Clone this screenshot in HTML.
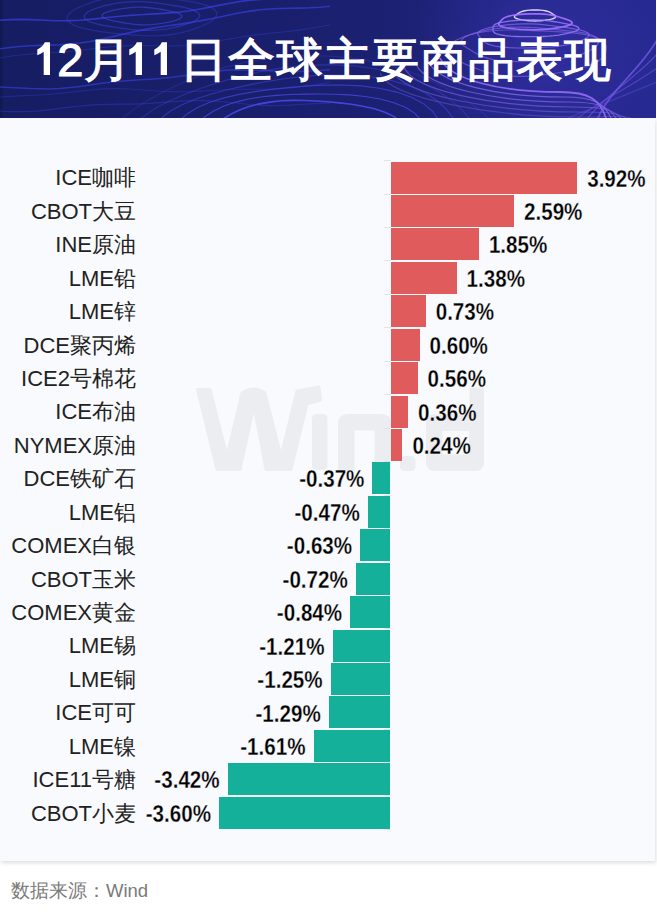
<!DOCTYPE html>
<html><head><meta charset="utf-8"><style>
html,body{margin:0;padding:0;width:657px;height:912px;overflow:hidden;background:#fff;font-family:"Liberation Sans",sans-serif;}
#hdr{position:absolute;left:0;top:0;width:656px;height:118px;overflow:hidden}
#hdr svg{position:absolute;left:0;top:0}
.one{position:relative;color:transparent;-webkit-text-stroke:0 transparent;margin-right:-2.5px}
#hdr .one svg{position:absolute;top:9px}
.cj{letter-spacing:1.1px}
#title{position:absolute;left:33px;top:29px;color:#fff;font-size:47px;font-weight:normal;-webkit-text-stroke:1.1px #fff;white-space:nowrap;letter-spacing:0.5px}
#panel{position:absolute;left:0;top:118px;width:654.5px;height:742.5px;background:#f9fafd;box-shadow:0.5px 2px 4px rgba(0,0,0,0.13)}
#wm{position:absolute;left:0;top:0}
.bar{position:absolute}
.val{position:absolute;font-size:20.6px;font-weight:bold;color:#000;line-height:33px;white-space:nowrap;transform:scaleY(1.18);transform-origin:50% 50%;-webkit-text-stroke:0.25px #f9fafd}
.cat{position:absolute;right:521px;font-size:21.5px;color:#222;line-height:33px;white-space:nowrap}
.lat{font-size:22px}
.tick{position:absolute;left:384px;width:7px;height:1px;background:#e4e4e8}
#foot{position:absolute;left:11px;top:878px;font-size:19px;color:#7a7a7a;white-space:nowrap}
#foot span{font-size:18.5px}
</style></head><body>
<div id="panel"></div>
<div id="hdr"><svg width="656" height="118" viewBox="0 0 656 118">
<defs>
<linearGradient id="bg" x1="0" y1="0" x2="1" y2="0">
<stop offset="0" stop-color="#161d62"/><stop offset="0.55" stop-color="#1b2070"/><stop offset="1" stop-color="#262990"/></linearGradient>
<radialGradient id="glow" cx="540" cy="50" r="130" gradientUnits="userSpaceOnUse">
<stop offset="0" stop-color="#4a3cd0" stop-opacity="0.35"/><stop offset="1" stop-color="#4a3cd0" stop-opacity="0"/></radialGradient>
</defs>
<rect width="656" height="118" fill="url(#bg)"/>
<rect width="656" height="118" fill="url(#glow)"/>
<rect width="2.5" height="118" fill="#101a50"/>
<path d="M555.0,15.6 L555.5,16.3 L555.5,17.1 L554.8,17.9 L553.4,18.5 L551.5,19.1 L549.4,19.6 L547.1,19.9 L544.8,20.3 L542.4,20.5 L540.0,20.8 L537.5,20.9 L535.0,21.0 L532.5,20.9 L530.0,20.8 L527.6,20.5 L525.2,20.3 L522.9,19.9 L520.6,19.6 L518.5,19.1 L516.6,18.5 L515.2,17.9 L514.5,17.1 L514.5,16.3 L515.0,15.6 L515.9,14.9 L516.8,14.3 L517.8,13.6 L518.8,13.0 L519.8,12.4 L521.1,11.8 L522.8,11.2 L524.8,10.7 L527.1,10.4 L529.7,10.1 L532.3,10.0 L535.0,10.0 L537.7,10.0 L540.3,10.1 L542.9,10.4 L545.2,10.7 L547.2,11.2 L548.9,11.8 L550.2,12.4 L551.2,13.0 L552.2,13.6 L553.2,14.3 L554.1,14.9Z" fill="none" stroke="#e6dcff" stroke-opacity="0.95" stroke-width="1.4"/>
<path d="M571.8,22.0 L572.1,23.1 L571.1,24.2 L569.0,25.2 L566.1,26.1 L562.7,26.9 L559.1,27.6 L555.3,28.2 L551.5,28.7 L547.4,29.2 L543.1,29.5 L538.6,29.7 L534.0,29.8 L529.4,29.7 L524.9,29.5 L520.4,29.3 L515.9,29.0 L511.4,28.5 L507.1,28.0 L503.5,27.2 L500.8,26.3 L499.2,25.2 L498.7,24.1 L499.0,23.0 L499.8,22.0 L500.7,21.0 L501.6,20.1 L502.5,19.1 L503.7,18.1 L505.6,17.2 L508.2,16.3 L511.5,15.5 L515.5,14.9 L519.8,14.4 L524.4,14.1 L529.2,13.9 L534.0,13.8 L538.8,13.8 L543.6,14.1 L548.0,14.5 L551.9,15.1 L555.2,15.9 L558.1,16.7 L560.6,17.5 L563.1,18.3 L565.7,19.1 L568.2,20.0 L570.4,20.9Z" fill="none" stroke="#a070ff" stroke-opacity="0.95" stroke-width="1.7"/>
<path d="M579.0,28.5 L578.2,29.7 L576.2,30.8 L573.3,31.8 L570.0,32.7 L566.4,33.6 L562.6,34.3 L558.4,35.1 L553.9,35.7 L549.0,36.2 L543.8,36.5 L538.4,36.7 L533.0,36.7 L527.5,36.7 L521.9,36.7 L516.2,36.5 L510.5,36.2 L505.1,35.7 L500.5,34.9 L496.9,34.0 L494.6,32.9 L493.4,31.7 L493.0,30.6 L493.0,29.5 L493.0,28.5 L493.0,27.5 L493.2,26.4 L493.9,25.3 L495.5,24.2 L498.1,23.2 L501.7,22.3 L506.1,21.6 L510.9,20.9 L516.1,20.5 L521.6,20.1 L527.2,19.8 L533.0,19.7 L538.7,19.9 L544.2,20.3 L549.1,20.8 L553.5,21.5 L557.5,22.2 L561.3,22.9 L565.1,23.6 L569.1,24.4 L572.8,25.2 L576.1,26.2 L578.2,27.3Z" fill="none" stroke="#9a78ff" stroke-opacity="0.85" stroke-width="1.3"/>
<path d="M588.8,36.0 L587.0,37.6 L584.3,39.1 L581.0,40.5 L577.4,41.8 L573.4,43.1 L568.9,44.3 L563.6,45.3 L557.8,46.1 L551.4,46.8 L544.8,47.2 L538.0,47.6 L531.0,47.8 L523.8,48.0 L516.3,48.0 L508.8,47.7 L501.6,47.1 L495.3,46.1 L490.3,44.9 L486.8,43.4 L484.4,41.9 L482.8,40.4 L481.4,38.9 L480.1,37.5 L478.8,36.0 L477.9,34.5 L478.0,32.9 L479.4,31.3 L482.2,29.8 L486.1,28.5 L491.1,27.3 L496.7,26.2 L502.8,25.3 L509.3,24.6 L516.3,24.1 L523.6,23.8 L531.0,23.8 L538.1,24.2 L544.8,24.8 L550.8,25.5 L556.6,26.3 L562.3,27.1 L568.1,27.9 L574.0,28.8 L579.7,29.9 L584.4,31.2 L587.7,32.7 L589.1,34.3Z" fill="none" stroke="#8a6cf0" stroke-opacity="0.70" stroke-width="1.2"/>
<path d="M597.9,44.0 L595.9,46.2 L593.3,48.3 L590.1,50.3 L586.3,52.3 L581.6,54.1 L575.9,55.7 L569.2,57.1 L561.9,58.3 L554.2,59.2 L546.2,60.1 L537.9,60.8 L529.0,61.4 L519.7,61.7 L510.2,61.5 L501.2,60.8 L493.1,59.6 L486.4,57.9 L481.2,55.9 L477.2,53.9 L473.7,52.0 L470.5,50.1 L467.2,48.1 L464.2,46.1 L461.9,44.0 L461.0,41.8 L461.9,39.5 L464.5,37.3 L468.5,35.3 L473.7,33.4 L479.7,31.7 L486.4,30.1 L493.9,28.8 L502.2,27.8 L511.0,27.2 L520.1,27.1 L529.0,27.4 L537.5,27.9 L545.4,28.7 L553.2,29.4 L561.1,30.1 L569.2,30.9 L577.4,31.9 L585.1,33.2 L591.5,35.0 L596.1,37.0 L598.6,39.3 L599.0,41.7Z" fill="none" stroke="#8a6cf0" stroke-opacity="0.60" stroke-width="1.2"/>
<path d="M605.7,52.0 L604.3,54.9 L602.2,57.8 L599.0,60.6 L594.6,63.2 L588.8,65.6 L581.9,67.8 L574.2,69.7 L565.9,71.4 L557.2,73.0 L547.9,74.4 L537.8,75.6 L527.0,76.4 L515.8,76.4 L505.0,75.7 L495.1,74.2 L486.6,72.1 L479.5,69.8 L473.4,67.4 L467.8,65.1 L462.2,62.8 L456.7,60.4 L451.6,57.8 L447.8,55.0 L445.7,52.0 L445.7,48.9 L447.6,45.9 L451.2,43.0 L456.0,40.2 L461.8,37.6 L468.7,35.2 L476.7,33.2 L485.9,31.5 L496.0,30.5 L506.5,30.0 L516.9,30.0 L527.0,30.4 L536.7,30.8 L546.4,31.2 L556.3,31.7 L566.6,32.3 L576.9,33.3 L586.6,34.9 L594.7,37.1 L600.8,39.8 L604.5,42.8 L606.2,45.9 L606.4,49.0Z" fill="none" stroke="#8a6cf0" stroke-opacity="0.55" stroke-width="1.2"/>
<path d="M440,58 C450,80 500,92 560,92 C590,92 600,100 606,118" fill="none" stroke="#9a70ff" stroke-opacity="0.85" stroke-width="1.8"/>
<path d="M428,61 C438,84 500,97 564,97 C594,97 604,103 611,118" fill="none" stroke="#8a6cf0" stroke-opacity="0.75" stroke-width="1.2"/>
<path d="M416,64 C426,88 500,102 568,102 C598,102 608,106 616,118" fill="none" stroke="#8a6cf0" stroke-opacity="0.65" stroke-width="1.2"/>
<path d="M404,67 C414,92 500,107 572,107 C602,107 612,109 621,118" fill="none" stroke="#8a6cf0" stroke-opacity="0.55" stroke-width="1.2"/>
<path d="M392,70 C402,96 500,112 576,112 C606,112 616,112 626,118" fill="none" stroke="#8a6cf0" stroke-opacity="0.45" stroke-width="1.2"/>
<path d="M380,73 C390,100 500,117 580,117 C610,117 620,115 631,118" fill="none" stroke="#8a6cf0" stroke-opacity="0.35" stroke-width="1.2"/>
<path d="M404.5,138.0 L401.6,143.4 L397.3,148.4 L392.1,153.2 L386.0,157.7 L379.0,161.9 L371.0,165.8 L361.8,169.2 L351.6,171.9 L340.4,173.9 L328.6,175.2 L316.8,175.6 L305.0,175.5 L293.4,175.0 L282.0,174.2 L270.5,173.1 L258.8,171.7 L247.0,169.8 L235.6,167.2 L225.2,163.8 L216.3,159.6 L209.8,154.6 L205.8,149.2 L204.5,143.6 L205.5,138.0 L208.4,132.6 L212.7,127.6 L217.9,122.8 L224.0,118.3 L231.0,114.1 L239.0,110.2 L248.2,106.8 L258.4,104.1 L269.6,102.1 L281.4,100.8 L293.2,100.4 L305.0,100.5 L316.6,101.0 L328.0,101.8 L339.5,102.9 L351.2,104.3 L363.0,106.2 L374.4,108.8 L384.8,112.2 L393.7,116.4 L400.2,121.4 L404.2,126.8 L405.5,132.4Z" fill="none" stroke="#4d4af0" stroke-opacity="0.85" stroke-width="1.6"/>
<path d="M423.1,140.0 L420.1,146.3 L416.0,152.5 L410.7,158.3 L404.1,164.0 L395.9,169.2 L386.0,173.9 L374.4,177.9 L361.5,181.0 L347.7,183.2 L333.6,184.6 L319.3,185.5 L305.0,185.9 L290.5,186.0 L275.7,185.8 L260.4,185.1 L245.0,183.5 L230.0,181.0 L216.1,177.2 L204.2,172.4 L195.1,166.6 L189.0,160.1 L186.0,153.4 L185.5,146.6 L186.9,140.0 L189.9,133.7 L194.0,127.5 L199.3,121.7 L205.9,116.0 L214.1,110.8 L224.0,106.1 L235.6,102.1 L248.5,99.0 L262.3,96.8 L276.4,95.4 L290.7,94.5 L305.0,94.1 L319.5,94.0 L334.3,94.2 L349.6,94.9 L365.0,96.5 L380.0,99.0 L393.9,102.8 L405.8,107.6 L414.9,113.4 L421.0,119.9 L424.0,126.6 L424.5,133.4Z" fill="none" stroke="#4d4af0" stroke-opacity="0.73" stroke-width="1.1"/>
<path d="M441.3,142.0 L439.3,149.4 L435.7,156.6 L430.3,163.6 L422.5,170.3 L412.5,176.4 L400.2,181.7 L386.1,186.1 L370.9,189.6 L355.0,192.4 L338.8,194.6 L322.2,196.4 L305.0,197.9 L287.1,198.9 L268.4,199.0 L249.3,198.1 L230.6,195.8 L213.2,191.9 L198.1,186.6 L186.1,180.1 L177.4,172.7 L171.9,165.0 L168.9,157.2 L168.0,149.5 L168.7,142.0 L170.7,134.6 L174.3,127.4 L179.7,120.4 L187.5,113.7 L197.5,107.6 L209.8,102.3 L223.9,97.9 L239.1,94.4 L255.0,91.6 L271.2,89.4 L287.8,87.6 L305.0,86.1 L322.9,85.1 L341.6,85.0 L360.7,85.9 L379.4,88.2 L396.8,92.1 L411.9,97.4 L423.9,103.9 L432.6,111.3 L438.1,119.0 L441.1,126.8 L442.0,134.5Z" fill="none" stroke="#4d4af0" stroke-opacity="0.61" stroke-width="1.1"/>
<path d="M461.0,144.0 L460.0,152.5 L456.4,160.9 L449.8,169.0 L440.3,176.5 L428.0,183.3 L413.6,189.2 L397.7,194.3 L380.8,198.7 L363.3,202.6 L345.0,206.2 L325.7,209.3 L305.0,211.8 L283.1,213.1 L260.6,213.0 L238.3,211.0 L217.4,207.2 L198.9,201.5 L183.6,194.5 L171.8,186.5 L163.0,178.1 L156.8,169.5 L152.5,161.0 L149.9,152.5 L149.0,144.0 L150.0,135.5 L153.6,127.1 L160.2,119.0 L169.7,111.5 L182.0,104.7 L196.4,98.8 L212.3,93.7 L229.2,89.3 L246.7,85.4 L265.0,81.8 L284.3,78.7 L305.0,76.2 L326.9,74.9 L349.4,75.0 L371.7,77.0 L392.6,80.8 L411.1,86.5 L426.4,93.5 L438.2,101.5 L447.0,109.9 L453.2,118.5 L457.5,127.0 L460.1,135.5Z" fill="none" stroke="#4d4af0" stroke-opacity="0.49" stroke-width="1.1"/>
<path d="M482.4,146.0 L481.3,155.6 L476.6,165.1 L468.4,174.1 L456.9,182.4 L443.0,190.0 L427.4,196.8 L410.6,203.2 L392.7,209.1 L373.5,214.7 L352.6,219.7 L329.7,223.9 L305.0,226.6 L279.2,227.4 L253.4,225.9 L229.0,222.2 L206.9,216.5 L188.0,209.3 L172.4,201.1 L159.8,192.3 L149.5,183.3 L141.1,174.2 L134.4,165.0 L129.7,155.6 L127.6,146.0 L128.7,136.4 L133.4,126.9 L141.6,117.9 L153.1,109.6 L167.0,102.0 L182.6,95.2 L199.4,88.8 L217.3,82.9 L236.5,77.3 L257.4,72.3 L280.3,68.1 L305.0,65.4 L330.8,64.6 L356.6,66.1 L381.0,69.8 L403.1,75.5 L422.0,82.7 L437.6,90.9 L450.2,99.7 L460.5,108.7 L468.9,117.8 L475.6,127.0 L480.3,136.4Z" fill="none" stroke="#4d4af0" stroke-opacity="0.37" stroke-width="1.1"/>
<path d="M504.0,148.0 L501.9,158.7 L495.7,169.2 L486.0,179.1 L473.7,188.4 L459.5,197.2 L443.9,205.6 L426.6,213.7 L407.3,221.5 L385.5,228.6 L360.9,234.5 L333.8,238.7 L305.0,240.5 L275.9,239.7 L247.9,236.4 L222.1,231.0 L199.3,223.9 L179.6,215.8 L162.5,207.1 L147.5,198.1 L134.3,188.9 L122.9,179.3 L113.9,169.2 L108.0,158.8 L106.0,148.0 L108.1,137.3 L114.3,126.8 L124.0,116.9 L136.3,107.6 L150.5,98.8 L166.1,90.4 L183.4,82.3 L202.7,74.5 L224.5,67.4 L249.1,61.5 L276.2,57.3 L305.0,55.5 L334.1,56.3 L362.1,59.6 L387.9,65.0 L410.7,72.1 L430.4,80.2 L447.5,88.9 L462.5,97.9 L475.7,107.1 L487.1,116.7 L496.1,126.8 L502.0,137.2Z" fill="none" stroke="#4d4af0" stroke-opacity="0.25" stroke-width="1.1"/>
<path d="M181.9,16.0 L181.5,17.3 L180.1,18.6 L177.7,19.7 L174.6,20.7 L171.2,21.6 L167.5,22.4 L163.8,23.1 L159.8,23.7 L155.6,24.2 L151.2,24.6 L146.6,24.8 L142.0,24.8 L137.5,24.5 L133.3,24.1 L129.4,23.6 L125.7,23.1 L122.2,22.5 L118.7,21.8 L115.0,21.2 L111.4,20.4 L108.0,19.5 L105.1,18.5 L103.1,17.3 L102.1,16.0 L102.5,14.7 L103.9,13.4 L106.3,12.3 L109.4,11.3 L112.8,10.4 L116.5,9.6 L120.2,8.9 L124.2,8.3 L128.4,7.8 L132.8,7.4 L137.4,7.2 L142.0,7.2 L146.5,7.5 L150.7,7.9 L154.6,8.4 L158.3,8.9 L161.8,9.5 L165.3,10.2 L169.0,10.8 L172.6,11.6 L176.0,12.5 L178.9,13.5 L180.9,14.7Z" fill="none" stroke="#3a46e0" stroke-opacity="0.60" stroke-width="1.3"/>
<path d="M199.7,16.0 L198.5,18.1 L195.9,20.2 L192.2,22.0 L188.0,23.7 L183.3,25.1 L178.4,26.5 L173.2,27.7 L167.6,28.8 L161.6,29.6 L155.2,30.2 L148.6,30.4 L142.0,30.3 L135.6,29.9 L129.6,29.3 L124.0,28.6 L118.4,27.8 L112.9,26.9 L107.2,26.0 L101.4,25.0 L95.9,23.7 L90.9,22.1 L87.1,20.2 L84.8,18.2 L84.3,16.0 L85.5,13.9 L88.1,11.8 L91.8,10.0 L96.0,8.3 L100.7,6.9 L105.6,5.5 L110.8,4.3 L116.4,3.2 L122.4,2.4 L128.8,1.8 L135.4,1.6 L142.0,1.7 L148.4,2.1 L154.4,2.7 L160.0,3.4 L165.6,4.2 L171.1,5.1 L176.8,6.0 L182.6,7.0 L188.1,8.3 L193.1,9.9 L196.9,11.8 L199.2,13.8Z" fill="none" stroke="#3a46e0" stroke-opacity="0.48" stroke-width="1.3"/>
<path d="M216.6,16.0 L214.3,18.9 L210.6,21.7 L206.0,24.2 L200.8,26.5 L195.2,28.6 L189.2,30.6 L182.6,32.3 L175.4,33.8 L167.5,35.0 L159.1,35.7 L150.5,35.9 L142.0,35.7 L133.8,35.1 L126.0,34.4 L118.4,33.6 L110.6,32.8 L102.7,31.8 L94.6,30.6 L86.6,29.1 L79.3,27.2 L73.2,24.8 L69.1,22.0 L67.1,19.0 L67.4,16.0 L69.7,13.1 L73.4,10.3 L78.0,7.8 L83.2,5.5 L88.8,3.4 L94.8,1.4 L101.4,-0.3 L108.6,-1.8 L116.5,-3.0 L124.9,-3.7 L133.5,-3.9 L142.0,-3.7 L150.2,-3.1 L158.0,-2.4 L165.6,-1.6 L173.4,-0.8 L181.3,0.2 L189.4,1.4 L197.4,2.9 L204.7,4.8 L210.8,7.2 L214.9,10.0 L216.9,13.0Z" fill="none" stroke="#3a46e0" stroke-opacity="0.36" stroke-width="1.3"/>
<polyline points="0,20.2 10,19.6 20,19.4 30,19.6 40,20.0 50,20.5 60,20.7 70,20.6 80,20.2 90,19.4 100,18.4 110,17.3 120,16.3 130,15.4 140,14.7 150,14.1 160,13.6 170,12.9 180,12.0 190,10.7 200,9.0 210,7.1 220,5.1 230,3.2 240,1.5 250,0.2 260,-0.6 270,-1.1 280,-1.2 290,-1.3 300,-1.5 310,-1.8 320,-2.4 330,-3.1" fill="none" stroke="#3b45ee" stroke-opacity="0.65" stroke-width="1.6" stroke-linejoin="round"/>
<polyline points="0,48.7 10,47.5 20,46.5 30,45.8 40,45.4 50,45.1 60,44.7 70,44.0 80,43.0 90,41.5 100,39.5 110,37.3 120,34.9 130,32.6 140,30.4 150,28.6 160,27.0 170,25.5 180,24.1 190,22.6 200,20.9 210,19.0 220,17.0 230,14.8 240,12.8 250,11.1 260,9.8 270,9.0 280,8.5 290,8.3 300,8.1 310,7.8 320,7.2 330,6.2" fill="none" stroke="#3b45ee" stroke-opacity="0.6" stroke-width="1.6" stroke-linejoin="round"/>
<polyline points="0,58.0 10,56.3 20,55.0 30,54.1 40,53.4 50,52.8 60,52.1 70,51.3 80,50.2 90,49.1 100,47.9 110,46.8 120,46.1 130,45.6 140,45.5 150,45.6 160,45.8 170,45.9 180,45.6 190,45.0 200,43.9 210,42.4 220,40.7 230,38.9 240,37.2 250,35.6 260,34.4 270,33.3 280,32.3 290,31.2 300,29.9 310,28.4 320,26.7 330,24.8" fill="none" stroke="#3b45ee" stroke-opacity="0.3" stroke-width="1.1" stroke-linejoin="round"/>
<polyline points="0,87.0 10,87.4 20,87.9 30,88.5 40,88.8 50,88.9 60,88.4 70,87.6 80,86.4 90,85.0 100,83.6 110,82.3 120,81.3 130,80.5 140,79.8 150,79.2 160,78.5 170,77.5 180,76.3 190,74.9 200,73.4 210,72.0 220,70.8 230,70.1 240,69.8 250,69.9 260,70.3 270,70.8 280,71.3 290,71.6 300,71.5 310,71.1 320,70.5 330,69.8" fill="none" stroke="#3b45ee" stroke-opacity="0.55" stroke-width="1.5" stroke-linejoin="round"/>
<polyline points="0,97.0 10,96.4 20,95.9 30,95.5 40,95.0 50,94.3 60,93.4 70,92.3 80,91.1 90,90.0 100,89.1 110,88.6 120,88.6 130,89.0 140,89.7 150,90.5 160,91.2 170,91.6 180,91.8 190,91.6 200,91.1 210,90.5 220,90.0 230,89.5 240,89.3 250,89.2 260,89.2 270,89.1 280,88.7 290,88.0 300,86.9 310,85.5 320,83.9 330,82.3" fill="none" stroke="#3b45ee" stroke-opacity="0.3" stroke-width="1.1" stroke-linejoin="round"/>
<polyline points="0,111.0 10,111.6 20,111.7 30,111.5 40,110.8 50,109.7 60,108.4 70,107.1 80,106.0 90,105.2 100,104.6 110,104.3 120,104.2 130,104.1 140,103.8 150,103.3 160,102.7 170,101.9 180,101.2 190,100.7 200,100.6 210,100.9 220,101.5 230,102.5 240,103.5 250,104.5 260,105.2 270,105.6 280,105.5 290,105.1 300,104.5 310,103.9 320,103.4 330,103.1" fill="none" stroke="#3b45ee" stroke-opacity="0.35" stroke-width="1.2" stroke-linejoin="round"/>
<path d="M657,40 C640,70 610,90 598,118" fill="none" stroke="#7a5cf0" stroke-opacity="0.70" stroke-width="1.8"/>
<path d="M657,54 C636,78 604,96 588,118" fill="none" stroke="#7a5cf0" stroke-opacity="0.58" stroke-width="1.2"/>
<path d="M657,68 C632,86 598,102 578,118" fill="none" stroke="#7a5cf0" stroke-opacity="0.46" stroke-width="1.2"/>
<path d="M657,82 C628,94 592,108 568,118" fill="none" stroke="#7a5cf0" stroke-opacity="0.34" stroke-width="1.2"/>
</svg><div id="title"><span class="one">1<svg style="left:3.5px" width="14" height="34" viewBox="0 0 14 34"><path d="M13,33 H6.7 V9.8 Q3.6,12 0.3,13.2 V7.4 Q3,6.3 5,4.2 Q6.9,2.2 7.8,0.3 H13 Z" fill="#fff"/></svg></span>2月<span class="one">1<svg style="left:-2.5px" width="14" height="34" viewBox="0 0 14 34"><path d="M13,33 H6.7 V9.8 Q3.6,12 0.3,13.2 V7.4 Q3,6.3 5,4.2 Q6.9,2.2 7.8,0.3 H13 Z" fill="#fff"/></svg></span><span class="one">1<svg style="left:-1px" width="14" height="34" viewBox="0 0 14 34"><path d="M13,33 H6.7 V9.8 Q3.6,12 0.3,13.2 V7.4 Q3,6.3 5,4.2 Q6.9,2.2 7.8,0.3 H13 Z" fill="#fff"/></svg></span><span class="cj">日全球主要商品表现</span></div></div>
<svg id="wm" width="657" height="912" viewBox="0 0 657 912">
<g fill="#ecedf0" stroke="#ecedf0" stroke-width="3" stroke-linejoin="round">
<path d="M197.5,389.5 L210,389.5 L227,456 L242,393 Q253.5,385 265,393 L281,456 L297,391 L319,387 L320.5,400 L307,404 L291,469.5 L266,469.5 L254,406 L240,469.5 L217,469.5 Z"/>
<rect x="313.5" y="415.5" width="12.5" height="53" rx="3"/>
<path d="M339.5,469.5 L339.5,424 Q339.5,415.5 348,415.5 L381,415.5 Q389.5,415.5 389.5,424 L389.5,469.5 L376,469.5 L376,429 L353,429 L353,469.5 Z"/>
<rect x="401.5" y="457.5" width="12.5" height="12" rx="3"/>
<path d="M471,389 L482.5,389 L482.5,462 Q482.5,469.5 475,469.5 L435,469.5 Q427.5,469.5 427.5,462 L427.5,423 Q427.5,415.5 435,415.5 L471,415.5 Z M441,429.5 L441,456 L470.5,456 L470.5,429.5 Z" fill-rule="evenodd"/>
</g></svg>
<div class="bar" style="left:391.0px;top:161.60px;width:186.2px;height:31.93px;background:#e05c5c"></div>
<div class="val" style="left:587.2px;top:161.61px">3.92%</div>
<div class="cat" style="top:161.41px"><span class="lat">ICE</span>咖啡</div>
<div class="bar" style="left:391.0px;top:195.03px;width:123.0px;height:31.93px;background:#e05c5c"></div>
<div class="val" style="left:524.0px;top:195.04px">2.59%</div>
<div class="cat" style="top:194.84px"><span class="lat">CBOT</span>大豆</div>
<div class="bar" style="left:391.0px;top:228.46px;width:87.9px;height:31.93px;background:#e05c5c"></div>
<div class="val" style="left:488.9px;top:228.47px">1.85%</div>
<div class="cat" style="top:228.28px"><span class="lat">INE</span>原油</div>
<div class="bar" style="left:391.0px;top:261.89px;width:65.5px;height:31.93px;background:#e05c5c"></div>
<div class="val" style="left:466.6px;top:261.90px">1.38%</div>
<div class="cat" style="top:261.70px"><span class="lat">LME</span>铅</div>
<div class="bar" style="left:391.0px;top:295.32px;width:34.7px;height:31.93px;background:#e05c5c"></div>
<div class="val" style="left:435.7px;top:295.33px">0.73%</div>
<div class="cat" style="top:295.13px"><span class="lat">LME</span>锌</div>
<div class="bar" style="left:391.0px;top:328.75px;width:28.5px;height:31.93px;background:#e05c5c"></div>
<div class="val" style="left:429.5px;top:328.76px">0.60%</div>
<div class="cat" style="top:328.56px"><span class="lat">DCE</span>聚丙烯</div>
<div class="bar" style="left:391.0px;top:362.18px;width:26.6px;height:31.93px;background:#e05c5c"></div>
<div class="val" style="left:427.6px;top:362.19px">0.56%</div>
<div class="cat" style="top:361.99px"><span class="lat">ICE2</span>号棉花</div>
<div class="bar" style="left:391.0px;top:395.61px;width:17.1px;height:31.93px;background:#e05c5c"></div>
<div class="val" style="left:418.1px;top:395.62px">0.36%</div>
<div class="cat" style="top:395.42px"><span class="lat">ICE</span>布油</div>
<div class="bar" style="left:391.0px;top:429.04px;width:11.4px;height:31.93px;background:#e05c5c"></div>
<div class="val" style="left:412.4px;top:429.05px">0.24%</div>
<div class="cat" style="top:428.85px"><span class="lat">NYMEX</span>原油</div>
<div class="bar" style="left:372.4px;top:462.47px;width:17.6px;height:31.93px;background:#14b09a"></div>
<div class="val" style="right:292.6px;top:462.48px">-0.37%</div>
<div class="cat" style="top:462.28px"><span class="lat">DCE</span>铁矿石</div>
<div class="bar" style="left:367.7px;top:495.90px;width:22.3px;height:31.93px;background:#14b09a"></div>
<div class="val" style="right:297.3px;top:495.91px">-0.47%</div>
<div class="cat" style="top:495.71px"><span class="lat">LME</span>铝</div>
<div class="bar" style="left:360.1px;top:529.33px;width:29.9px;height:31.93px;background:#14b09a"></div>
<div class="val" style="right:304.9px;top:529.35px">-0.63%</div>
<div class="cat" style="top:529.15px"><span class="lat">COMEX</span>白银</div>
<div class="bar" style="left:355.8px;top:562.76px;width:34.2px;height:31.93px;background:#14b09a"></div>
<div class="val" style="right:309.2px;top:562.77px">-0.72%</div>
<div class="cat" style="top:562.57px"><span class="lat">CBOT</span>玉米</div>
<div class="bar" style="left:350.1px;top:596.19px;width:39.9px;height:31.93px;background:#14b09a"></div>
<div class="val" style="right:314.9px;top:596.21px">-0.84%</div>
<div class="cat" style="top:596.00px"><span class="lat">COMEX</span>黄金</div>
<div class="bar" style="left:332.5px;top:629.62px;width:57.5px;height:31.93px;background:#14b09a"></div>
<div class="val" style="right:332.5px;top:629.64px">-1.21%</div>
<div class="cat" style="top:629.44px"><span class="lat">LME</span>锡</div>
<div class="bar" style="left:330.6px;top:663.05px;width:59.4px;height:31.93px;background:#14b09a"></div>
<div class="val" style="right:334.4px;top:663.07px">-1.25%</div>
<div class="cat" style="top:662.87px"><span class="lat">LME</span>铜</div>
<div class="bar" style="left:328.7px;top:696.48px;width:61.3px;height:31.93px;background:#14b09a"></div>
<div class="val" style="right:336.3px;top:696.50px">-1.29%</div>
<div class="cat" style="top:696.29px"><span class="lat">ICE</span>可可</div>
<div class="bar" style="left:313.5px;top:729.91px;width:76.5px;height:31.93px;background:#14b09a"></div>
<div class="val" style="right:351.5px;top:729.93px">-1.61%</div>
<div class="cat" style="top:729.73px"><span class="lat">LME</span>镍</div>
<div class="bar" style="left:227.6px;top:763.34px;width:162.4px;height:31.93px;background:#14b09a"></div>
<div class="val" style="right:437.4px;top:763.36px">-3.42%</div>
<div class="cat" style="top:763.16px"><span class="lat">ICE11</span>号糖</div>
<div class="bar" style="left:219.0px;top:796.77px;width:171.0px;height:31.93px;background:#14b09a"></div>
<div class="val" style="right:446.0px;top:796.78px">-3.60%</div>
<div class="cat" style="top:796.58px"><span class="lat">CBOT</span>小麦</div>
<div class="tick" style="top:160.20px"></div>
<div class="tick" style="top:193.63px"></div>
<div class="tick" style="top:227.06px"></div>
<div class="tick" style="top:260.49px"></div>
<div class="tick" style="top:293.92px"></div>
<div class="tick" style="top:327.35px"></div>
<div class="tick" style="top:360.78px"></div>
<div class="tick" style="top:394.21px"></div>
<div class="tick" style="top:427.64px"></div>
<div class="tick" style="top:461.07px"></div>
<div class="tick" style="top:494.50px"></div>
<div class="tick" style="top:527.93px"></div>
<div class="tick" style="top:561.36px"></div>
<div class="tick" style="top:594.79px"></div>
<div class="tick" style="top:628.22px"></div>
<div class="tick" style="top:661.65px"></div>
<div class="tick" style="top:695.08px"></div>
<div class="tick" style="top:728.51px"></div>
<div class="tick" style="top:761.94px"></div>
<div class="tick" style="top:795.37px"></div>
<div class="tick" style="top:828.80px"></div>
<div id="foot">数据来源：<span>Wind</span></div>
</body></html>
